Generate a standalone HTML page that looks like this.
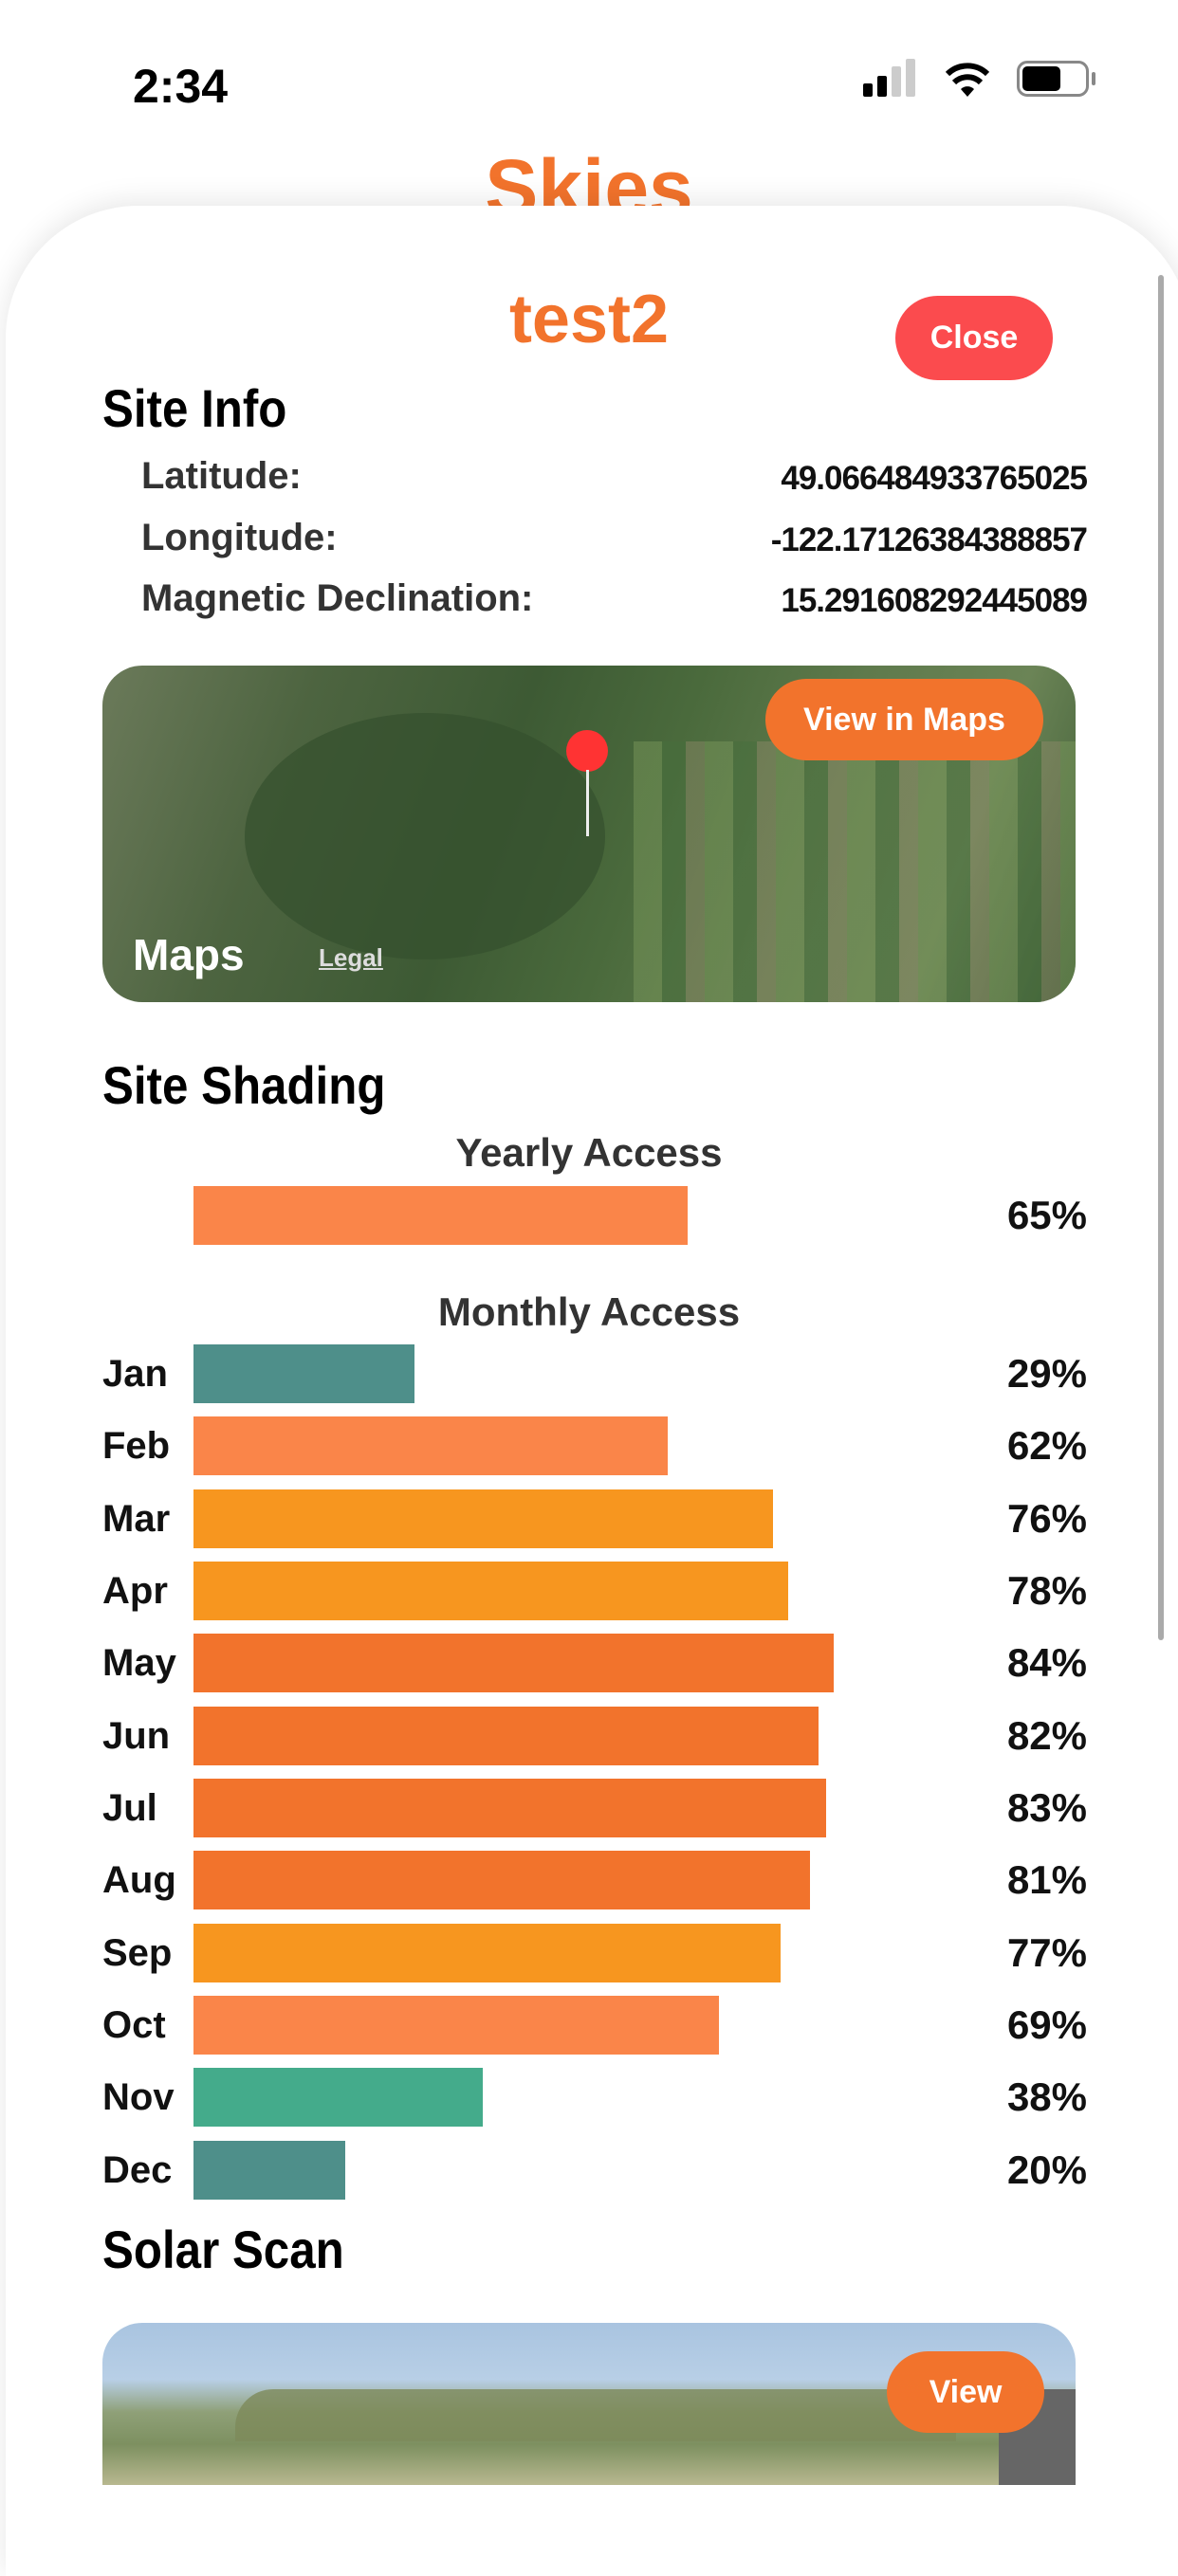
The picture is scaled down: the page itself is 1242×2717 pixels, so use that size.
<!DOCTYPE html>
<html><head><meta charset="utf-8"><style>
*{margin:0;padding:0;box-sizing:border-box}
body{width:1242px;height:2688px;background:#fff;position:relative;overflow:hidden;font-family:"Liberation Sans",sans-serif;font-weight:bold;color:#111}
.a{position:absolute;white-space:nowrap}
.card{position:absolute;left:6px;top:217px;width:1250px;height:2500px;background:#fff;border-radius:140px 140px 0 0;box-shadow:0 -4px 30px rgba(0,0,0,0.10)}
.lbl{font-size:40px;color:#333;left:149px}
.val{font-size:35px;right:96px;color:#111;letter-spacing:-1px}
.mon{left:108px;font-size:40px;line-height:62px}
.pct{right:96px;font-size:42px;line-height:62px}
.bar{position:absolute;left:204px;height:62px}
.btn{position:absolute;background:#f2732c;color:#fff;border-radius:45px;text-align:center;font-size:34px}
.h{font-size:56px;color:#000;transform:scaleX(0.88);transform-origin:left}
</style></head><body>
<div class="a" style="left:140px;top:62px;font-size:50px;color:#000">2:34</div>
<div class="a" style="left:910px;top:88px;width:10px;height:14px;background:#000;border-radius:2px"></div>
<div class="a" style="left:925px;top:80px;width:10px;height:22px;background:#000;border-radius:2px"></div>
<div class="a" style="left:940px;top:70px;width:10px;height:32px;background:#ccc;border-radius:2px"></div>
<div class="a" style="left:955px;top:62px;width:10px;height:40px;background:#ccc;border-radius:2px"></div>
<svg class="a" style="left:995px;top:62px" width="50" height="42" viewBox="0 0 50 42"><path d="M25 40 L18 32 A10 10 0 0 1 32 32 Z" fill="#000"/><path d="M11 25 A20 20 0 0 1 39 25" stroke="#000" stroke-width="6" fill="none"/><path d="M4 16 A30 30 0 0 1 46 16" stroke="#000" stroke-width="6" fill="none"/></svg>
<div class="a" style="left:1072px;top:64px;width:76px;height:38px;border:3px solid #888;border-radius:11px"></div>
<div class="a" style="left:1078px;top:70px;width:40px;height:26px;background:#000;border-radius:5px"></div>
<div class="a" style="left:1151px;top:76px;width:4px;height:14px;background:#888;border-radius:2px"></div>
<div class="a" style="left:0;width:1242px;text-align:center;top:150px;font-size:84px;color:#f2732c">Skies</div>
<div class="card"></div>
<div class="a" style="left:1221px;top:290px;width:6px;height:1440px;background:#aaa;border-radius:3px"></div>
<div class="a" style="left:0;width:1242px;text-align:center;top:296px;font-size:72px;color:#f2732c">test2</div>
<div class="a" style="left:944px;top:312px;width:166px;height:89px;background:#fb4b4e;border-radius:45px;color:#fff;font-size:34px;text-align:center;line-height:89px">Close</div>
<div class="a h" style="left:108px;top:398px">Site Info</div>
<div class="a lbl" style="top:480px">Latitude:</div>
<div class="a val" style="top:485px">49.066484933765025</div>
<div class="a lbl" style="top:545px">Longitude:</div>
<div class="a val" style="top:550px">-122.17126384388857</div>
<div class="a lbl" style="top:609px">Magnetic Declination:</div>
<div class="a val" style="top:614px">15.291608292445089</div>
<div class="a" style="left:108px;top:702px;width:1026px;height:355px;border-radius:42px;overflow:hidden;background:linear-gradient(110deg,#6b7a5a 0%,#4d6440 20%,#3d5a34 40%,#4a6a3c 55%,#5f7a4c 70%,#6b8456 85%,#3c5a34 100%)">
<div class="a" style="left:560px;top:80px;width:470px;height:280px;background:repeating-linear-gradient(90deg,rgba(120,150,90,.5) 0 30px,rgba(70,110,60,.5) 30px 55px,rgba(150,140,110,.4) 55px 75px)"></div>
<div class="a" style="left:150px;top:50px;width:380px;height:260px;background:#34502d;border-radius:50%;opacity:.7"></div>
</div>
<div class="a" style="left:597px;top:770px;width:44px;height:44px;background:#f33;border-radius:50%"></div>
<div class="a" style="left:618px;top:812px;width:3px;height:70px;background:#eee"></div>
<div class="a" style="left:140px;top:980px;font-size:46px;color:#fff"> Maps</div>
<div class="a" style="left:336px;top:995px;font-size:26px;color:#ddd;text-decoration:underline">Legal</div>
<div class="btn" style="left:807px;top:716px;width:293px;height:86px;line-height:86px">View in Maps</div>
<div class="a h" style="left:108px;top:1112px">Site Shading</div>
<div class="a" style="left:0;width:1242px;text-align:center;top:1192px;font-size:42px;color:#333">Yearly Access</div>
<div class="bar" style="top:1251px;width:521px;background:#fa8549"></div>
<div class="a pct" style="top:1251px">65%</div>
<div class="a" style="left:0;width:1242px;text-align:center;top:1360px;font-size:42px;color:#333">Monthly Access</div>

<div class="a mon" style="top:1418px">Jan</div><div class="bar" style="top:1418px;width:233px;background:#4e8f8a"></div><div class="a pct" style="top:1418px">29%</div>
<div class="a mon" style="top:1494px">Feb</div><div class="bar" style="top:1494px;width:500px;background:#fa8549"></div><div class="a pct" style="top:1494px">62%</div>
<div class="a mon" style="top:1571px">Mar</div><div class="bar" style="top:1571px;width:611px;background:#f7961f"></div><div class="a pct" style="top:1571px">76%</div>
<div class="a mon" style="top:1647px">Apr</div><div class="bar" style="top:1647px;width:627px;background:#f7961f"></div><div class="a pct" style="top:1647px">78%</div>
<div class="a mon" style="top:1723px">May</div><div class="bar" style="top:1723px;width:675px;background:#f2732c"></div><div class="a pct" style="top:1723px">84%</div>
<div class="a mon" style="top:1800px">Jun</div><div class="bar" style="top:1800px;width:659px;background:#f2732c"></div><div class="a pct" style="top:1800px">82%</div>
<div class="a mon" style="top:1876px">Jul</div><div class="bar" style="top:1876px;width:667px;background:#f2732c"></div><div class="a pct" style="top:1876px">83%</div>
<div class="a mon" style="top:1952px">Aug</div><div class="bar" style="top:1952px;width:650px;background:#f2732c"></div><div class="a pct" style="top:1952px">81%</div>
<div class="a mon" style="top:2029px">Sep</div><div class="bar" style="top:2029px;width:619px;background:#f7961f"></div><div class="a pct" style="top:2029px">77%</div>
<div class="a mon" style="top:2105px">Oct</div><div class="bar" style="top:2105px;width:554px;background:#fa8549"></div><div class="a pct" style="top:2105px">69%</div>
<div class="a mon" style="top:2181px">Nov</div><div class="bar" style="top:2181px;width:305px;background:#44ab8b"></div><div class="a pct" style="top:2181px">38%</div>
<div class="a mon" style="top:2258px">Dec</div><div class="bar" style="top:2258px;width:160px;background:#4e8f8a"></div><div class="a pct" style="top:2258px">20%</div>

<div class="a h" style="left:108px;top:2340px">Solar Scan</div>
<div class="a" style="left:108px;top:2450px;width:1026px;height:171px;border-radius:42px 42px 0 0;overflow:hidden;background:linear-gradient(180deg,#a9c4e0 0%,#b8cfe6 35%,#8fa078 55%,#7d9060 75%,#b8b890 100%)">
<div class="a" style="left:140px;top:70px;width:760px;height:55px;background:#7d8a5a;border-radius:40px 40px 0 0;opacity:.8"></div>
<div class="a" style="left:945px;top:70px;width:81px;height:101px;background:#666"></div>
</div>
<div class="btn" style="left:935px;top:2480px;width:166px;height:86px;line-height:86px">View</div>
</body></html>
